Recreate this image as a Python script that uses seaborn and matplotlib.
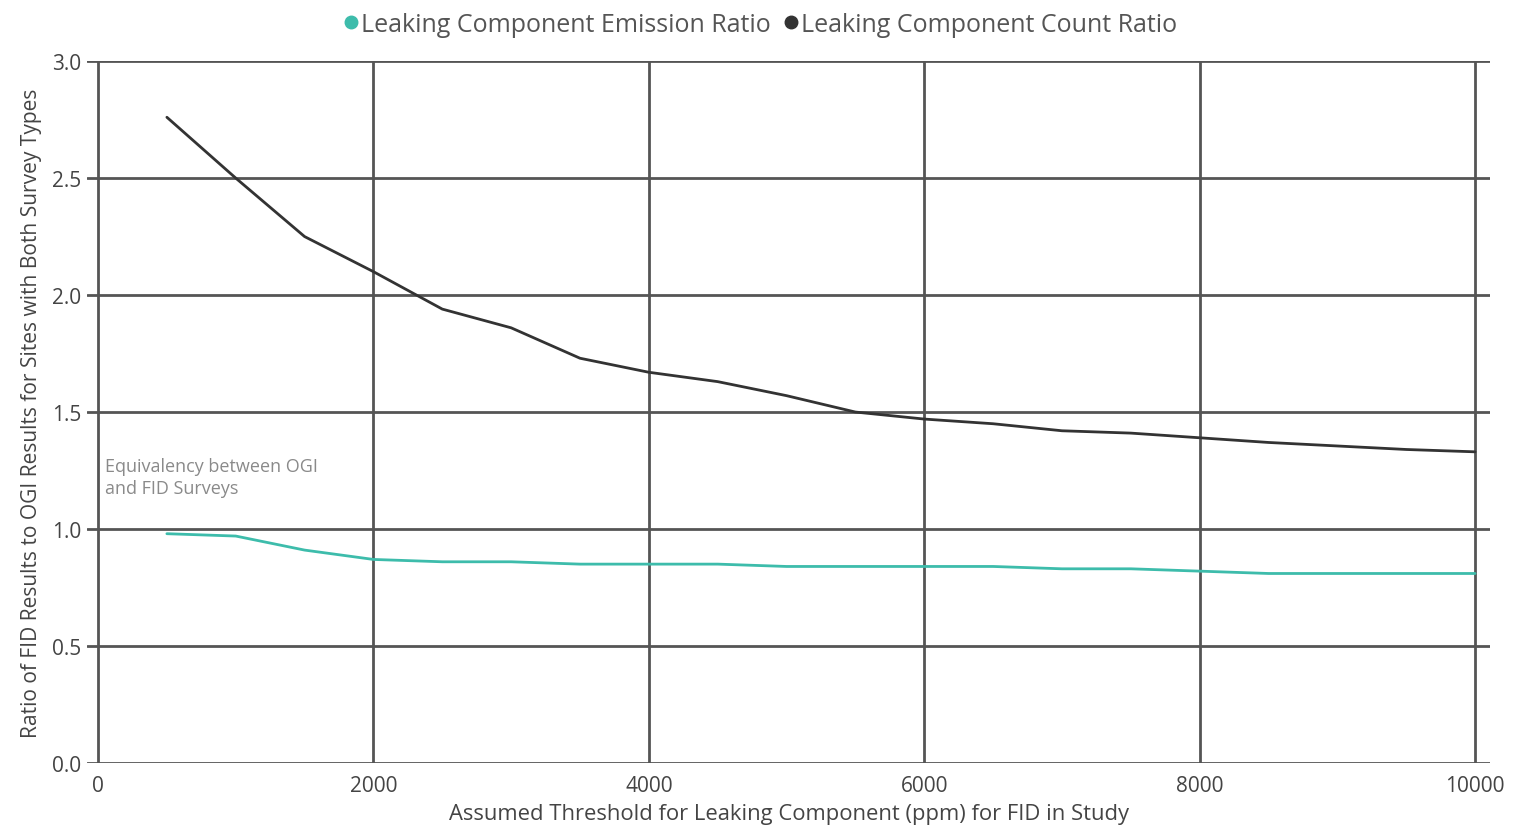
import numpy as np
import pandas as pd
import matplotlib
matplotlib.use("Agg")
import matplotlib.pyplot as plt
from matplotlib.lines import Line2D
import seaborn as sns

thresholds = [500, 1000, 1500, 2000, 2500, 3000, 3500, 4000, 4500, 5000,
              5500, 6000, 6500, 7000, 7500, 8000, 8500, 9000, 9500, 10000]
emission_ratio = [0.98, 0.97, 0.91, 0.87, 0.86, 0.86, 0.85, 0.85, 0.85, 0.84,
                  0.84, 0.84, 0.84, 0.83, 0.83, 0.82, 0.81, 0.81, 0.81, 0.81]
count_ratio = [2.76, 2.50, 2.25, 2.10, 1.94, 1.86, 1.73, 1.67, 1.63, 1.57,
               1.50, 1.47, 1.45, 1.42, 1.41, 1.39, 1.37, 1.355, 1.34, 1.33]
series_names = ["Leaking Component Emission Ratio", "Leaking Component Count Ratio"]
x_ticks = [0, 2000, 4000, 6000, 8000, 10000]
y_ticks = [0.0, 0.5, 1.0, 1.5, 2.0, 2.5, 3.0]
annotation = "Equivalency between OGI\nand FID Surveys"
x_label = "Assumed Threshold for Leaking Component (ppm) for FID in Study"
y_label = "Ratio of FID Results to OGI Results for Sites with Both Survey Types"

colors = {series_names[0]: "#3dbcab", series_names[1]: "#333333"}

df = pd.DataFrame({
    "threshold": thresholds * 2,
    "ratio": emission_ratio + count_ratio,
    "series": [series_names[0]] * len(thresholds) + [series_names[1]] * len(thresholds),
})

sns.set_theme(style="white")
plt.rcParams["font.family"] = ["Open Sans", "DejaVu Sans"]

fig = plt.figure(figsize=(15.16, 8.28), dpi=100)
ax = fig.add_axes([0.0574, 0.0773, 0.983 - 0.0574, 0.925 - 0.0773])

sns.lineplot(data=df, x="threshold", y="ratio", hue="series", palette=colors,
             linewidth=2.0, ax=ax, legend=False)

ax.set_xlim(-80, 10110)
ax.set_ylim(0, 3.0)
ax.set_xticks(x_ticks)
ax.set_yticks(y_ticks)
ax.set_yticklabels([f"{v:.1f}" for v in y_ticks])
ax.grid(True, color="#555555", linewidth=2.0)
ax.set_axisbelow(True)
for s in ax.spines.values():
    s.set_visible(False)
ax.tick_params(axis="both", labelsize=15, colors="#444444", length=0)
ax.tick_params(axis="x", pad=9)
ax.tick_params(axis="y", pad=4)
ax.set_xlabel(x_label, fontsize=15.8, color="#444444", labelpad=5)
ax.set_ylabel(y_label, fontsize=15.1, color="#444444", labelpad=7)

ax.text(50, 1.31, annotation, fontsize=13, color="#8a8a8a", va="top", ha="left",
        linespacing=1.35)

handles = [Line2D([], [], marker="o", linestyle="none", markersize=9,
                  color=colors[n]) for n in series_names]
fig.legend(handles, series_names, loc="upper center", bbox_to_anchor=(0.5, 1.012),
           ncol=2, frameon=False, fontsize=18, handletextpad=-0.1,
           columnspacing=0.3, handlelength=1.0, labelcolor="#555555")

fig.savefig("out.png", dpi=100)
